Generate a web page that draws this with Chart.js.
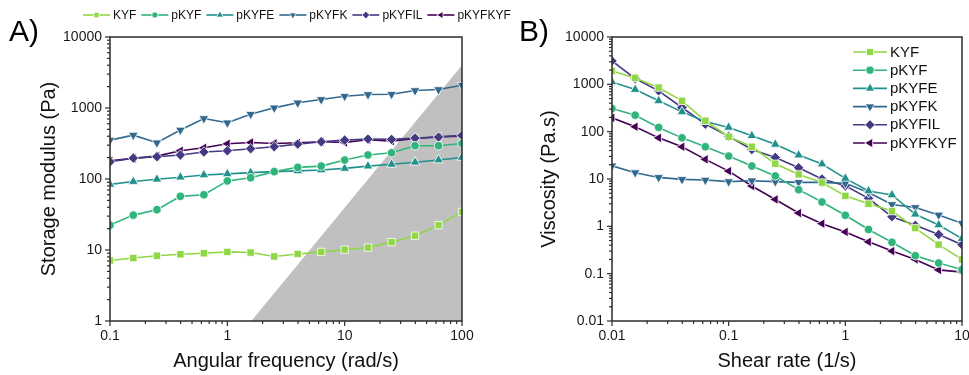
<!DOCTYPE html>
<html>
<head>
<meta charset="utf-8">
<script src="https://cdn.jsdelivr.net/npm/chart.js@4.4.0/dist/chart.umd.min.js"></script>
<style>
html, body { margin: 0; padding: 0; background: #fff; overflow: hidden; width: 969px; height: 375px; }
#wrapA { position: absolute; left: 0; top: 0; width: 515px; height: 375px; z-index: 2; }
#wrapB { position: absolute; left: 490px; top: 0; width: 495px; height: 375px; z-index: 1; }
</style>
</head>
<body>
<div id="wrapB"><canvas id="chartB"></canvas></div>
<div id="wrapA"><canvas id="chartA"></canvas></div>
<script>
// series
const seriesNames = ['KYF', 'pKYF', 'pKYFE', 'pKYFK', 'pKYFIL', 'pKYFKYF'];
const seriesColors = ['#8fd744', '#2fb47c', '#21918c', '#31688e', '#443983', '#440154'];
const pointStyles = ['rect', 'circle', 'triangle', 'triangle', 'rectRot', 'triangle'];
const pointRotations = [0, 0, 0, 180, 0, 270];

// A) storage modulus
const angularFrequency = [0.1, 0.158, 0.251, 0.398, 0.631, 1, 1.58, 2.51, 3.98, 6.31, 10, 15.8, 25.1, 39.8, 63.1, 100];
const modulusKYF = [7.1, 7.7, 8.3, 8.7, 9.0, 9.4, 9.2, 8.1, 8.8, 9.4, 10.1, 10.8, 12.9, 15.9, 22.4, 34.4];
const modulusPKYF = [22.4, 31, 37, 57, 60, 94, 104, 127, 146, 152, 185, 218, 234, 294, 294, 317];
const modulusPKYFE = [84, 92, 99, 106, 114, 118, 123, 127, 130, 134, 141, 152, 161, 172, 185, 201];
const modulusPKYFK = [353, 415, 324, 489, 711, 619, 818, 1005, 1183, 1316, 1466, 1548, 1565, 1761, 1820, 2094];
const modulusPKYFIL = [175, 197, 206, 218, 240, 250, 267, 285, 310, 335, 353, 365, 361, 377, 389, 411];
const modulusPKYFKYF = [181, 195, 210, 250, 275, 313, 327, 317, 324, 335, 327, 357, 342, 372, 393, 402];
const limitFrequency = [1.6, 100];
const limitModulus = [1, 4000];
const frequencyTicks = [0.1, 1, 10, 100];
const modulusTicks = [1, 10, 100, 1000, 10000];

// B) viscosity
const shearRate = [0.01, 0.0158, 0.0251, 0.0398, 0.0631, 0.1, 0.158, 0.251, 0.398, 0.631, 1, 1.58, 2.51, 3.98, 6.31, 10];
const viscosityKYF = [1919, 1367, 855, 448, 170, 78, 48, 21, 12.5, 8.4, 4.4, 3.0, 2.1, 0.92, 0.41, 0.20];
const viscosityPKYF = [308, 223, 123, 74, 48, 30.5, 18.8, 11.6, 5.95, 3.27, 1.71, 0.86, 0.46, 0.24, 0.168, 0.122];
const viscosityPKYFE = [1125, 776, 448, 262, 164, 123, 82, 54, 32, 20.7, 10.3, 5.6, 4.6, 1.8, 1.07, 0.55];
const viscosityPKYFK = [19, 13.6, 10.8, 9.8, 9.5, 8.8, 9.2, 8.8, 8.5, 8.5, 8.1, 5.2, 2.9, 2.5, 1.74, 1.16];
const viscosityPKYFIL = [3119, 1324, 728, 324, 144, 80, 42, 28.6, 17.3, 10, 7.2, 3.9, 1.6, 1.05, 0.67, 0.41];
const viscosityPKYFKYF = [196, 127, 74, 48, 26, 14.7, 7.1, 3.7, 1.91, 1.14, 0.76, 0.47, 0.30, 0.20, 0.12, 0.108];
const shearTicks = [0.01, 0.1, 1, 10];
const viscosityTicks = [0.01, 0.1, 1, 10, 100, 1000, 10000];

const axisColor = '#2b2b2b';
const fontFamily = '"Liberation Sans", Arial, sans-serif';
Chart.defaults.font.family = fontFamily;
Chart.defaults.color = '#1a1a1a';

// marker size per style
function markerRadius(style, base) {
    if (style === 'circle') return base * 0.82;
    if (style === 'triangle') return base * 1.08;
    return base;
}

// major decades + minor 2..9 in between
function buildLogTicks(majors) {
    const ticks = [];
    for (let i = 0; i < majors.length; i++) {
        ticks.push({ value: majors[i], major: true });
        if (i < majors.length - 1) {
            for (let k = 2; k <= 9; k++) {
                ticks.push({ value: Number((majors[i] * k).toPrecision(6)), major: false });
            }
        }
    }
    return ticks;
}

function logAxis(majors, title, titlePad, size, horizontal) {
    return {
        type: 'logarithmic',
        min: majors[0],
        max: majors[majors.length - 1],
        afterBuildTicks: function(scale) { scale.ticks = buildLogTicks(majors); },
        afterFit: function(scale) {
            if (horizontal) scale.height = size; else scale.width = size;
        },
        ticks: {
            autoSkip: false,
            maxRotation: 0,
            padding: horizontal ? 2 : 3,
            color: '#1a1a1a',
            font: { size: 14 },
            callback: function(value, index, ticks) {
                return ticks[index].major ? String(Number(Number(value).toPrecision(6))) : '';
            }
        },
        grid: { display: true, drawOnChartArea: false, drawTicks: true, tickLength: 5, tickColor: 'rgba(0,0,0,0)' },
        border: { display: false },
        title: {
            display: true,
            text: title,
            color: '#111',
            font: { size: 20 },
            padding: horizontal ? { top: 0, bottom: 2 } : { top: titlePad, bottom: 0 }
        }
    };
}

function makeSeries(xs, ysList) {
    return ysList.map(function(ys, i) {
        return {
            label: seriesNames[i],
            data: xs.map(function(x, j) { return { x: x, y: ys[j] }; }),
            borderColor: seriesColors[i],
            backgroundColor: seriesColors[i],
            pointBackgroundColor: seriesColors[i],
            pointBorderColor: '#ffffff',
            pointBorderWidth: 0.8,
            pointStyle: pointStyles[i],
            pointRotation: pointRotations[i],
            pointRadius: markerRadius(pointStyles[i], 5.2),
            borderWidth: 1.6,
            tension: 0,
            fill: false,
            order: 0
        };
    });
}

function strokeLine(ctx, x1, y1, x2, y2) {
    ctx.beginPath();
    ctx.moveTo(x1, y1);
    ctx.lineTo(x2, y2);
    ctx.stroke();
}

function drawLegendMark(ctx, i, x, y, lineLen, radius) {
    ctx.save();
    ctx.strokeStyle = seriesColors[i];
    ctx.lineWidth = 1.6;
    strokeLine(ctx, x, y, x + lineLen, y);
    ctx.fillStyle = seriesColors[i];
    ctx.strokeStyle = '#ffffff';
    ctx.lineWidth = 0.8;
    Chart.helpers.drawPoint(ctx, { pointStyle: pointStyles[i], rotation: pointRotations[i], radius: markerRadius(pointStyles[i], radius), borderWidth: 0.8 }, x + lineLen / 2, y);
    ctx.restore();
}

// frame, ticks, panel letter and legend
const panelDeco = {
    id: 'panelDeco',
    afterDraw(chart, args, opts) {
        const ctx = chart.ctx;
        const area = chart.chartArea;
        const xs = chart.scales.x, ys = chart.scales.y;
        ctx.save();
        ctx.strokeStyle = axisColor;
        ctx.lineWidth = 1.2;
        xs.ticks.forEach(function(t) {
            const px = xs.getPixelForValue(t.value);
            strokeLine(ctx, px, area.bottom, px, area.bottom + (t.major ? 5 : 3));
        });
        ys.ticks.forEach(function(t) {
            const py = ys.getPixelForValue(t.value);
            strokeLine(ctx, area.left - (t.major ? 5 : 3), py, area.left, py);
        });
        ctx.lineWidth = 1.5;
        ctx.strokeRect(area.left, area.top, area.right - area.left, area.bottom - area.top);

        ctx.fillStyle = '#000';
        ctx.font = '30px ' + fontFamily;
        ctx.textBaseline = 'alphabetic';
        ctx.textAlign = 'left';
        ctx.fillText(opts.label, opts.labelX, opts.labelY);

        const lg = opts.legend;
        ctx.font = lg.fontSize + 'px ' + fontFamily;
        ctx.textBaseline = 'middle';
        let x = lg.x, y = lg.y;
        seriesNames.forEach(function(name, i) {
            drawLegendMark(ctx, i, x, y, lg.lineLen, lg.radius);
            ctx.fillStyle = '#111';
            ctx.fillText(name, x + lg.lineLen + lg.textGap, y + 0.5);
            if (lg.row) {
                x = x + lg.lineLen + lg.textGap + ctx.measureText(name).width + lg.itemGap;
            } else {
                y = y + lg.rowH;
            }
        });
        ctx.restore();
    }
};

const chartA = new Chart(document.getElementById('chartA'), {
    type: 'line',
    data: {
        datasets: makeSeries(angularFrequency, [modulusKYF, modulusPKYF, modulusPKYFE, modulusPKYFK, modulusPKYFIL, modulusPKYFKYF]).concat([{
            label: 'limit',
            data: limitFrequency.map(function(x, j) { return { x: x, y: limitModulus[j] }; }),
            fill: 'start',
            backgroundColor: '#c0c0c0',
            borderWidth: 0,
            pointRadius: 0,
            order: 10
        }])
    },
    options: {
        responsive: true,
        maintainAspectRatio: false,
        animation: false,
        events: [],
        layout: { padding: { left: 30, right: 53, top: 37, bottom: 0 } },
        scales: {
            x: logAxis(frequencyTicks, 'Angular frequency (rad/s)', 0, 54, true),
            y: logAxis(modulusTicks, 'Storage modulus (Pa)', 7, 80, false)
        },
        plugins: {
            legend: { display: false },
            tooltip: { enabled: false },
            panelDeco: {
                label: 'A)', labelX: 9, labelY: 41,
                legend: { row: true, x: 83, y: 15, lineLen: 27, textGap: 3, itemGap: 5, fontSize: 12, radius: 3.8 }
            }
        }
    },
    plugins: [panelDeco]
});

const chartB = new Chart(document.getElementById('chartB'), {
    type: 'line',
    data: {
        datasets: makeSeries(shearRate, [viscosityKYF, viscosityPKYF, viscosityPKYFE, viscosityPKYFK, viscosityPKYFIL, viscosityPKYFKYF])
    },
    options: {
        responsive: true,
        maintainAspectRatio: false,
        animation: false,
        events: [],
        layout: { padding: { left: 40, right: 23, top: 37, bottom: 0 } },
        scales: {
            x: logAxis(shearTicks, 'Shear rate (1/s)', 0, 54, true),
            y: logAxis(viscosityTicks, 'Viscosity (Pa.s)', 7, 82, false)
        },
        plugins: {
            legend: { display: false },
            tooltip: { enabled: false },
            panelDeco: {
                label: 'B)', labelX: 29, labelY: 41,
                legend: { row: false, x: 363, y: 52, rowH: 18.2, lineLen: 34, textGap: 3, itemGap: 0, fontSize: 15, radius: 5 }
            }
        }
    },
    plugins: [panelDeco]
});
</script>
</body>
</html>
